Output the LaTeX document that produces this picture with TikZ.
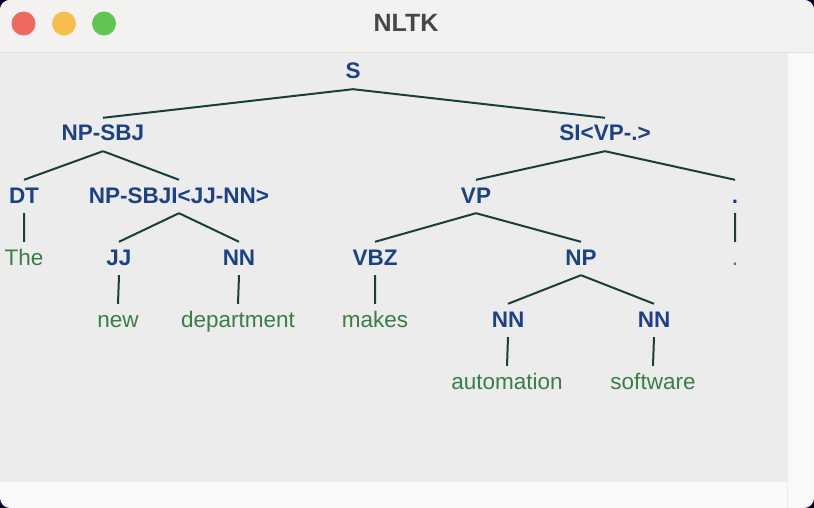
\documentclass[tikz,border=0pt]{standalone}
\usepackage{fontspec}
\setmainfont{Liberation Sans}
\usepackage{tikz}
\usetikzlibrary{positioning}

\definecolor{catblue}{RGB}{28,66,132}
\definecolor{wordgreen}{RGB}{58,126,70}
\definecolor{branchcol}{RGB}{24,62,62}
\definecolor{canvasgrey}{RGB}{236,236,236}
\definecolor{chromewhite}{RGB}{249,249,249}
\definecolor{titlegrey}{RGB}{243,242,240}
\definecolor{closered}{RGB}{238,106,95}
\definecolor{minyellow}{RGB}{245,191,79}
\definecolor{zoomgreen}{RGB}{97,197,84}

\begin{document}
\begin{tikzpicture}[x=1pt,y=-1pt,
    cat/.style={font=\fontsize{22.5}{26}\selectfont\bfseries, text=catblue, anchor=base,
      text height=18pt, text depth=5pt, inner ysep=5pt, inner xsep=0pt},
    word/.style={cat, font=\fontsize{22.5}{26}\selectfont, text=wordgreen},
    branch/.style={draw=branchcol, line width=2pt}]
    \useasboundingbox (0,0) rectangle (814,508);

    % window
    \fill[black!85!blue] (0,0) rectangle (814,508);
    \fill[chromewhite, rounded corners=10pt] (0,0) rectangle (814,508);
    \fill[titlegrey, rounded corners=10pt] (0,0) rectangle (814,60);
    \fill[canvasgrey] (0,53) rectangle (787,482);
    \fill[chromewhite] (787,53) rectangle (814,470);
    \draw[black!12, line width=1pt] (0,52.5) -- (814,52.5);
    \draw[black!7, line width=0.8pt] (787,53) -- (787,508);
    \fill[closered] (23.5,23.5) circle (12);
    \fill[minyellow] (64,23.5) circle (12);
    \fill[zoomgreen] (104,23.5) circle (12);
    \node[font=\fontsize{25}{28}\selectfont\bfseries, text=black!72, anchor=base] (title) at (406,32) {NLTK};

    % categories
    \node[cat] (s) at (353,79) {S};
    \node[cat] (npsbj) at (103,141) {NP-SBJ};
    \node[cat] (sivp) at (605,141) {SI<VP-.>};
    \node[cat] (dt) at (24,203) {DT};
    \node[cat] (npsbjjj) at (179,203) {NP-SBJI<JJ-NN>};
    \node[cat] (vp) at (476,203) {VP};
    \node[cat] (dotcat) at (735,203) {.};
    \node[cat] (jj) at (119,265) {JJ};
    \node[cat] (nnb) at (239,265) {NN};
    \node[cat] (vbz) at (375,265) {VBZ};
    \node[cat] (np) at (581,265) {NP};
    \node[cat] (nnc) at (508,327) {NN};
    \node[cat] (nnd) at (654,327) {NN};

    % words
    \node[word] (the) at (24,265) {The};
    \node[word] (dotword) at (735,265) {.};
    \node[word] (new) at (118,327) {new};
    \node[word] (department) at (238,327) {department};
    \node[word] (makes) at (375,327) {makes};
    \node[word] (automation) at (507,389) {automation};
    \node[word] (software) at (653,389) {software};

    % branches
    \draw[branch] (s.south) -- (npsbj.north) (s.south) -- (sivp.north)
          (npsbj.south) -- (dt.north) (npsbj.south) -- (npsbjjj.north)
          (sivp.south) -- (vp.north) (sivp.south) -- (dotcat.north)
          (npsbjjj.south) -- (jj.north) (npsbjjj.south) -- (nnb.north)
          (vp.south) -- (vbz.north) (vp.south) -- (np.north)
          (np.south) -- (nnc.north) (np.south) -- (nnd.north);
    \draw[branch] (dt.south) -- (the.north) (dotcat.south) -- (dotword.north)
          (jj.south) -- (new.north) (nnb.south) -- (department.north)
          (vbz.south) -- (makes.north)
          (nnc.south) -- (automation.north) (nnd.south) -- (software.north);
\end{tikzpicture}
\end{document}
